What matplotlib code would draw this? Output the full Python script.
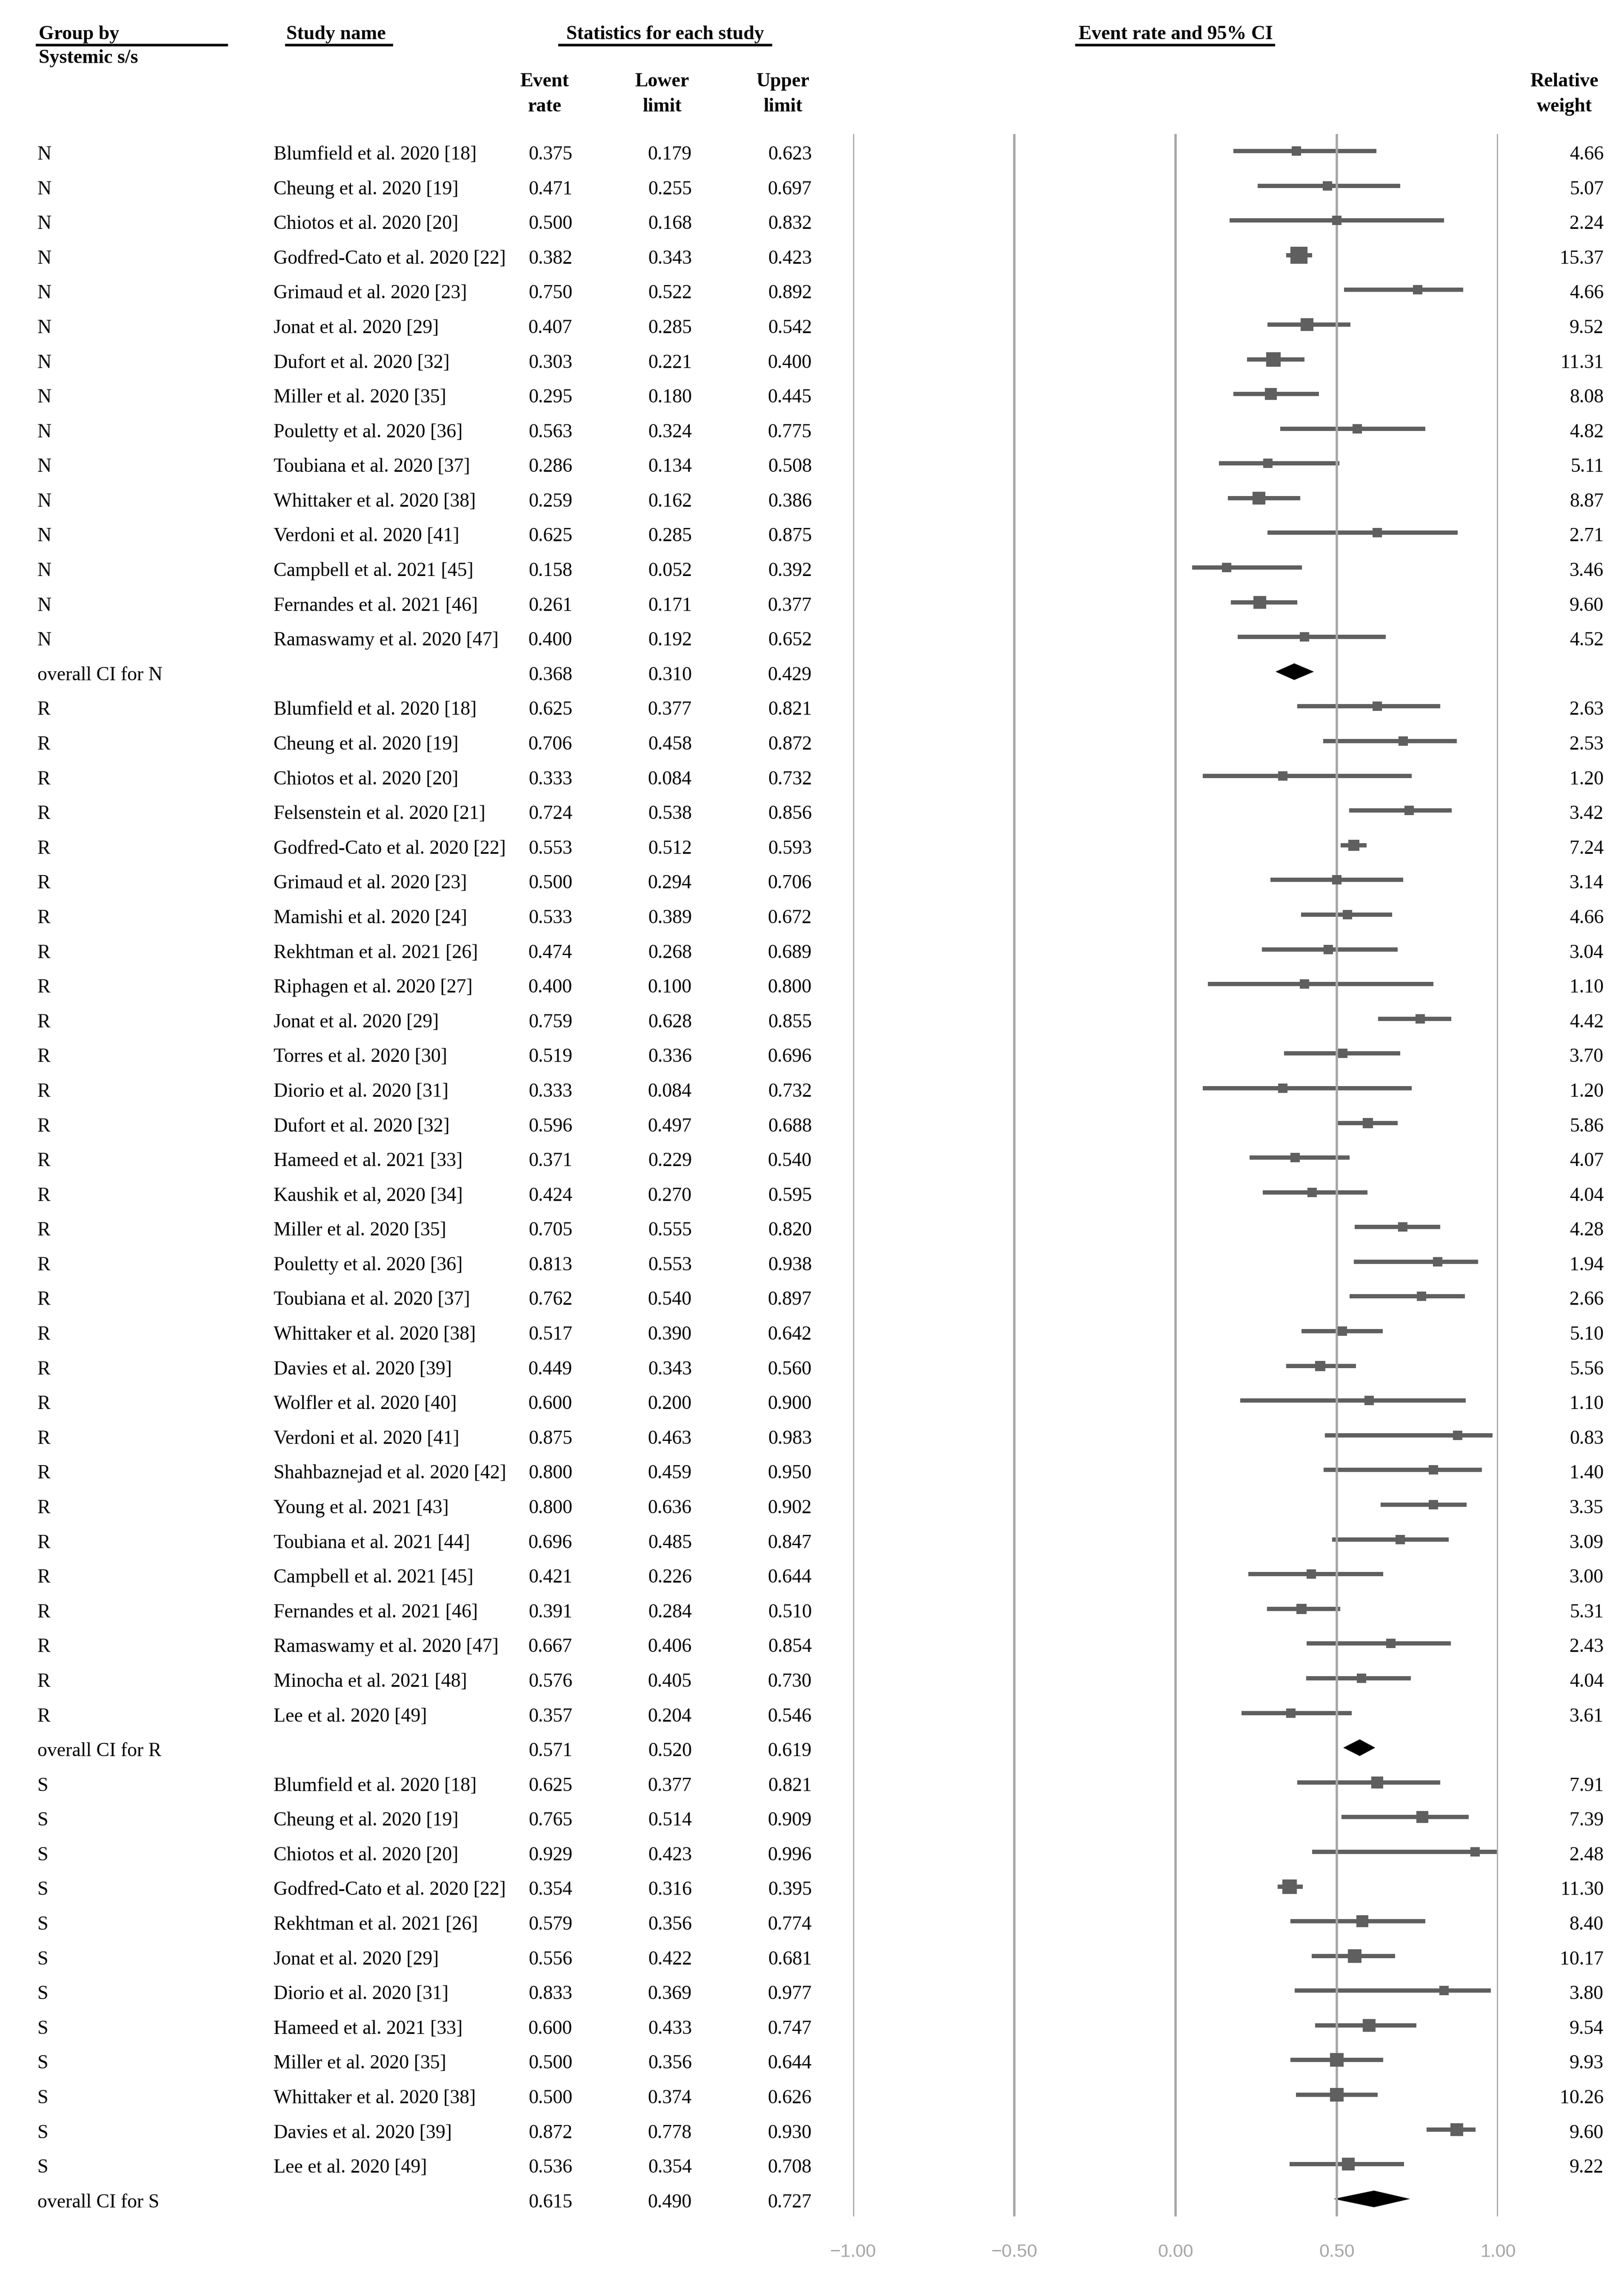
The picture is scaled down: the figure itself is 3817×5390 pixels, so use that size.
"""Forest plot: event rate and 95% CI grouped by systemic s/s."""
import numpy as np
import matplotlib
matplotlib.use('Agg')
import matplotlib.pyplot as plt
from matplotlib import transforms
from matplotlib.lines import Line2D
from matplotlib.patches import Polygon
from matplotlib.ticker import FuncFormatter

plt.rcParams['font.family'] = ['Liberation Serif', 'DejaVu Serif']

# ---- data ----
groups = ['N', 'R', 'S']

n_names = ['Blumfield et al. 2020 [18]', 'Cheung et al. 2020 [19]', 'Chiotos et al. 2020 [20]',
           'Godfred-Cato et al. 2020 [22]', 'Grimaud et al. 2020 [23]', 'Jonat et al. 2020 [29]',
           'Dufort et al. 2020 [32]', 'Miller et al. 2020 [35]', 'Pouletty et al. 2020 [36]',
           'Toubiana et al. 2020 [37]', 'Whittaker et al. 2020 [38]', 'Verdoni et al. 2020 [41]',
           'Campbell et al. 2021 [45]', 'Fernandes et al. 2021 [46]', 'Ramaswamy et al. 2020 [47]']
n_rate = [0.375, 0.471, 0.500, 0.382, 0.750, 0.407, 0.303, 0.295, 0.563, 0.286, 0.259, 0.625, 0.158, 0.261, 0.400]
n_low = [0.179, 0.255, 0.168, 0.343, 0.522, 0.285, 0.221, 0.180, 0.324, 0.134, 0.162, 0.285, 0.052, 0.171, 0.192]
n_up = [0.623, 0.697, 0.832, 0.423, 0.892, 0.542, 0.400, 0.445, 0.775, 0.508, 0.386, 0.875, 0.392, 0.377, 0.652]
n_wt = [4.66, 5.07, 2.24, 15.37, 4.66, 9.52, 11.31, 8.08, 4.82, 5.11, 8.87, 2.71, 3.46, 9.60, 4.52]

r_names = ['Blumfield et al. 2020 [18]', 'Cheung et al. 2020 [19]', 'Chiotos et al. 2020 [20]',
           'Felsenstein et al. 2020 [21]', 'Godfred-Cato et al. 2020 [22]', 'Grimaud et al. 2020 [23]',
           'Mamishi et al. 2020 [24]', 'Rekhtman et al. 2021 [26]', 'Riphagen et al. 2020 [27]',
           'Jonat et al. 2020 [29]', 'Torres et al. 2020 [30]', 'Diorio et al. 2020 [31]',
           'Dufort et al. 2020 [32]', 'Hameed et al. 2021 [33]', 'Kaushik et al, 2020 [34]',
           'Miller et al. 2020 [35]', 'Pouletty et al. 2020 [36]', 'Toubiana et al. 2020 [37]',
           'Whittaker et al. 2020 [38]', 'Davies et al. 2020 [39]', 'Wolfler et al. 2020 [40]',
           'Verdoni et al. 2020 [41]', 'Shahbaznejad et al. 2020 [42]', 'Young et al. 2021 [43]',
           'Toubiana et al. 2021 [44]', 'Campbell et al. 2021 [45]', 'Fernandes et al. 2021 [46]',
           'Ramaswamy et al. 2020 [47]', 'Minocha et al. 2021 [48]', 'Lee et al. 2020 [49]']
r_rate = [0.625, 0.706, 0.333, 0.724, 0.553, 0.500, 0.533, 0.474, 0.400, 0.759, 0.519, 0.333, 0.596, 0.371, 0.424,
          0.705, 0.813, 0.762, 0.517, 0.449, 0.600, 0.875, 0.800, 0.800, 0.696, 0.421, 0.391, 0.667, 0.576, 0.357]
r_low = [0.377, 0.458, 0.084, 0.538, 0.512, 0.294, 0.389, 0.268, 0.100, 0.628, 0.336, 0.084, 0.497, 0.229, 0.270,
         0.555, 0.553, 0.540, 0.390, 0.343, 0.200, 0.463, 0.459, 0.636, 0.485, 0.226, 0.284, 0.406, 0.405, 0.204]
r_up = [0.821, 0.872, 0.732, 0.856, 0.593, 0.706, 0.672, 0.689, 0.800, 0.855, 0.696, 0.732, 0.688, 0.540, 0.595,
        0.820, 0.938, 0.897, 0.642, 0.560, 0.900, 0.983, 0.950, 0.902, 0.847, 0.644, 0.510, 0.854, 0.730, 0.546]
r_wt = [2.63, 2.53, 1.20, 3.42, 7.24, 3.14, 4.66, 3.04, 1.10, 4.42, 3.70, 1.20, 5.86, 4.07, 4.04,
        4.28, 1.94, 2.66, 5.10, 5.56, 1.10, 0.83, 1.40, 3.35, 3.09, 3.00, 5.31, 2.43, 4.04, 3.61]

s_names = ['Blumfield et al. 2020 [18]', 'Cheung et al. 2020 [19]', 'Chiotos et al. 2020 [20]',
           'Godfred-Cato et al. 2020 [22]', 'Rekhtman et al. 2021 [26]', 'Jonat et al. 2020 [29]',
           'Diorio et al. 2020 [31]', 'Hameed et al. 2021 [33]', 'Miller et al. 2020 [35]',
           'Whittaker et al. 2020 [38]', 'Davies et al. 2020 [39]', 'Lee et al. 2020 [49]']
s_rate = [0.625, 0.765, 0.929, 0.354, 0.579, 0.556, 0.833, 0.600, 0.500, 0.500, 0.872, 0.536]
s_low = [0.377, 0.514, 0.423, 0.316, 0.356, 0.422, 0.369, 0.433, 0.356, 0.374, 0.778, 0.354]
s_up = [0.821, 0.909, 0.996, 0.395, 0.774, 0.681, 0.977, 0.747, 0.644, 0.626, 0.930, 0.708]
s_wt = [7.91, 7.39, 2.48, 11.30, 8.40, 10.17, 3.80, 9.54, 9.93, 10.26, 9.60, 9.22]

overall_rate = [0.368, 0.571, 0.615]
overall_low = [0.310, 0.520, 0.490]
overall_up = [0.429, 0.619, 0.727]

x_ticks = [-1.0, -0.5, 0.0, 0.5, 1.0]

# ---- layout (pixels of the 3817 x 5390 output) ----
W, H, DPI = 3817, 5390, 100
ROW0, STEP = 355, 81.59          # centre of first row, row pitch
AX_L, AX_R, AX_T, AX_B = 2005, 3521, 315, 5210

def row_of(py):
    return (py - ROW0) / STEP

fig = plt.figure(figsize=(W / DPI, H / DPI), dpi=DPI)
ax = fig.add_axes([AX_L / W, 1 - AX_B / H, (AX_R - AX_L) / W, (AX_B - AX_T) / H])
ax.set_xlim(-1, 1)
ax.set_ylim(row_of(AX_B), row_of(AX_T))
for s in ax.spines.values():
    s.set_visible(False)
ax.set_yticks([])
ax.set_xticks(x_ticks)
ax.xaxis.set_major_formatter(FuncFormatter(lambda v, _: f'{v:.2f}'.replace('-', '\u2212')))
ax.tick_params(axis='x', length=0, pad=46, labelsize=31, labelcolor='#a6a6a6')
for lab in ax.get_xticklabels():
    lab.set_family(['Liberation Sans', 'DejaVu Sans'])
for v in x_ticks:
    ax.axvline(v, color='#a6a6a6', lw=4.0, zorder=5)

tr = transforms.blended_transform_factory(fig.transFigure, ax.transData)
FS = 33
BASE = 0.245   # text baseline offset (rows) below row centre
LINE_C = '#5f5f5f'

X_GROUP, X_NAME = 88, 643
X_RATE, X_LOW, X_UP, X_WT = 1345, 1626, 1908, 3769

def put(px, row, s, ha='left', **kw):
    fig.text(px / W, row + BASE, s, transform=tr, ha=ha, va='baseline', fontsize=FS, **kw)

blocks = [
    (n_names, n_rate, n_low, n_up, n_wt),
    (r_names, r_rate, r_low, r_up, r_wt),
    (s_names, s_rate, s_low, s_up, s_wt),
]

row = 0
for g, (names, rate, low, up, wt) in enumerate(blocks):
    rows = np.arange(row, row + len(names))
    ax.hlines(rows, low, up, color=LINE_C, lw=7.2, zorder=2)
    for i, r in enumerate(rows):
        side = max(23, 10 * np.sqrt(wt[i]))
        ax.plot(rate[i], r, marker='s', ms=side * 0.72, color=LINE_C, mew=0, zorder=6)
        put(X_GROUP, r, groups[g])
        put(X_NAME, r, names[i])
        put(X_RATE, r, f'{rate[i]:.3f}', ha='right')
        put(X_LOW, r, f'{low[i]:.3f}', ha='right')
        put(X_UP, r, f'{up[i]:.3f}', ha='right')
        put(X_WT, r, f'{wt[i]:.2f}', ha='right')
    r = row + len(names)
    half = 0.24
    ax.add_patch(Polygon([[overall_low[g], r], [overall_rate[g], r - half],
                          [overall_up[g], r], [overall_rate[g], r + half]],
                         closed=True, color='black', lw=0, zorder=3))
    put(X_GROUP, r, f'overall CI for {groups[g]}')
    put(X_RATE, r, f'{overall_rate[g]:.3f}', ha='right')
    put(X_LOW, r, f'{overall_low[g]:.3f}', ha='right')
    put(X_UP, r, f'{overall_up[g]:.3f}', ha='right')
    row = r + 1

# ---- headers ----
def head(px, py, s, ha='left'):
    fig.text(px / W, row_of(py), s, transform=tr, ha=ha, va='baseline',
             fontsize=FS, fontweight='bold')

def uline(x0, x1, py):
    fig.add_artist(Line2D([x0 / W, x1 / W], [1 - py / H] * 2, transform=fig.transFigure,
                          color='black', lw=4.3))

head(91, 92, 'Group by')
head(91, 148, 'Systemic s/s')
head(673, 92, 'Study name')
head(1563, 92, 'Statistics for each study', ha='center')
head(2763, 92, 'Event rate and 95% CI', ha='center')
head(1280, 203, 'Event', ha='center')
head(1280, 262, 'rate', ha='center')
head(1556, 203, 'Lower', ha='center')
head(1556, 262, 'limit', ha='center')
head(1840, 203, 'Upper', ha='center')
head(1840, 262, 'limit', ha='center')
head(3677, 203, 'Relative', ha='center')
head(3677, 262, 'weight', ha='center')

uline(87, 533, 106)
uline(673, 921, 106)
uline(1315, 1812, 106)
uline(2530, 2994, 106)

fig.savefig('out.png', dpi=DPI)
